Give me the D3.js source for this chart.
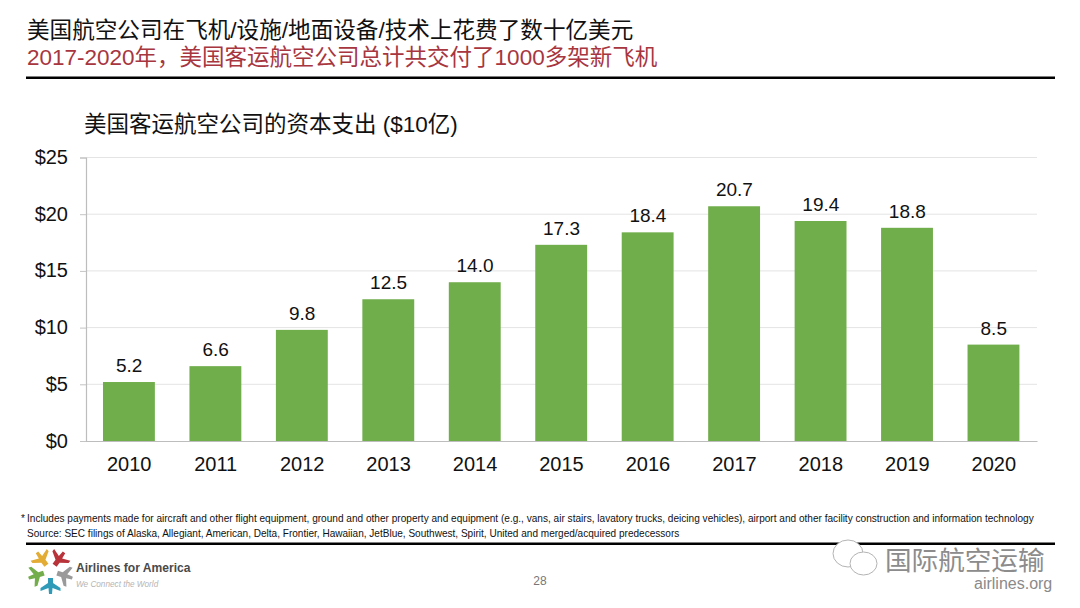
<!DOCTYPE html>
<html>
<head>
<meta charset="utf-8">
<script src="https://cdn.jsdelivr.net/npm/d3@7"></script>
<style>
  html, body { margin: 0; padding: 0; background: #fff; }
  text { font-family: "Liberation Sans", "Noto Sans CJK SC", sans-serif; }
</style>
</head>
<body>
<svg id="slide" width="1080" height="608"></svg>
<script>
var years = ["2010", "2011", "2012", "2013", "2014", "2015", "2016", "2017", "2018", "2019", "2020"];
var capex = [5.2, 6.6, 9.8, 12.5, 14.0, 17.3, 18.4, 20.7, 19.4, 18.8, 8.5];
var yTicks = [0, 5, 10, 15, 20, 25];
var logoColors = ["#b8333a", "#9a9a9a", "#2f9bb8", "#74ad4c", "#e2ac35"];

var svg = d3.select("#slide");

function label(x, y, str, size, fill, anchor) {
  return svg.append("text")
      .attr("x", x)
      .attr("y", y)
      .attr("font-size", size)
      .attr("fill", fill)
      .attr("text-anchor", anchor || "start")
      .text(str);
}

// Header
label(27, 38, "美国航空公司在飞机/设施/地面设备/技术上花费了数十亿美元", 22.6, "#111");
label(27, 65, "2017-2020年，美国客运航空公司总计共交付了1000多架新飞机", 22.5, "#a8363f");
svg.append("rect").attr("x", 26).attr("y", 76.5).attr("width", 1029).attr("height", 2.5).attr("fill", "#000");

// Chart title
label(84, 132, "美国客运航空公司的资本支出 ($10亿)", 22.5, "#111");

// Scales
var x = d3.scaleBand().domain(years).range([86, 1037]).paddingInner(0.4).paddingOuter(0.2);
var y = d3.scaleLinear().domain([0, 25]).range([441, 157.5]);

// Gridlines
svg.append("g").selectAll("line")
  .data(yTicks.filter(function(d) { return d > 0; }))
  .join("line")
    .attr("x1", 86)
    .attr("x2", 1037)
    .attr("y1", function(d) { return y(d); })
    .attr("y2", function(d) { return y(d); })
    .attr("stroke", "#e4e4e4")
    .attr("stroke-width", 1);

// Bars
svg.append("g").selectAll("rect")
  .data(capex)
  .join("rect")
    .attr("x", function(d, i) { return x(years[i]) - 0.3; })
    .attr("y", function(d) { return y(d); })
    .attr("width", x.bandwidth())
    .attr("height", function(d) { return y(0) - y(d); })
    .attr("fill", "#70ad4b");

// Value labels
svg.append("g").selectAll("text")
  .data(capex)
  .join("text")
    .attr("x", function(d, i) { return x(years[i]) + x.bandwidth() / 2; })
    .attr("y", function(d) { return y(d) - 10; })
    .attr("text-anchor", "middle")
    .attr("font-size", 19)
    .attr("fill", "#111")
    .text(function(d) { return d.toFixed(1); });

// Axes
var yAxis = d3.axisLeft(y).tickValues(yTicks).tickSize(6).tickPadding(12)
    .tickFormat(function(d) { return "$" + d; });
var gy = svg.append("g").attr("transform", "translate(86,0)").call(yAxis);
gy.selectAll("text").attr("font-size", 20).attr("fill", "#111").attr("dy", "0.3em");
gy.selectAll("line").attr("stroke", "#c4c4c4");
gy.select(".domain").attr("stroke", "#bdbdbd").attr("stroke-width", 1.2);

var xAxis = d3.axisBottom(x).tickSize(0).tickPadding(16);
var gx = svg.append("g").attr("transform", "translate(0,441)").call(xAxis);
gx.selectAll("text").attr("font-size", 20).attr("fill", "#111");
gx.select(".domain").attr("stroke", "#bdbdbd").attr("stroke-width", 1.2);

// Footnotes
label(21, 522, "*", 10, "#111");
label(27, 522, "Includes payments made for aircraft and other flight equipment, ground and other property and equipment (e.g., vans, air stairs, lavatory trucks, deicing vehicles), airport and other facility construction and information technology", 10.08, "#111");
label(27, 537, "Source: SEC filings of Alaska, Allegiant, American, Delta, Frontier, Hawaiian, JetBlue, Southwest, Spirit, United and merged/acquired predecessors", 10.05, "#111");
svg.append("rect").attr("x", 26).attr("y", 542.5).attr("width", 1029).attr("height", 2.5).attr("fill", "#000");

// Logo: five small planes around a star
var logo = svg.append("g").attr("transform", "translate(50.5,571)");
logo.selectAll("path")
  .data(logoColors)
  .join("path")
    .attr("d", "M-2.5,-7 L2.5,-7 L2.5,-12 L10,-17 L10,-20 L2,-17 L1.5,-23 L-1.5,-23 L-2,-17 L-10,-20 L-10,-17 L-2.5,-12 Z")
    .attr("fill", function(d) { return d; })
    .attr("transform", function(d, i) { return "rotate(" + (36 + i * 72) + ")"; });
label(76, 572, "Airlines for America", 12.1, "#4a4a4a").attr("font-weight", "bold");
label(76, 587, "We Connect the World", 8.2, "#b5b5b5").attr("font-style", "italic");

// Page number
label(540, 585, "28", 12, "#777", "middle");

// Watermark
var mark = svg.append("g").attr("fill", "#fff").attr("stroke", "#b4b4b4").attr("stroke-width", 1);
mark.append("ellipse").attr("cx", 848).attr("cy", 553.5).attr("rx", 15).attr("ry", 13.5);
mark.append("ellipse").attr("cx", 863.5).attr("cy", 563.5).attr("rx", 13.5).attr("ry", 11.5);
label(885, 570, "国际航空运输", 26.6, "#8c8c8c");
label(974, 589, "airlines.org", 16, "#8a8a8a");
</script>
</body>
</html>
